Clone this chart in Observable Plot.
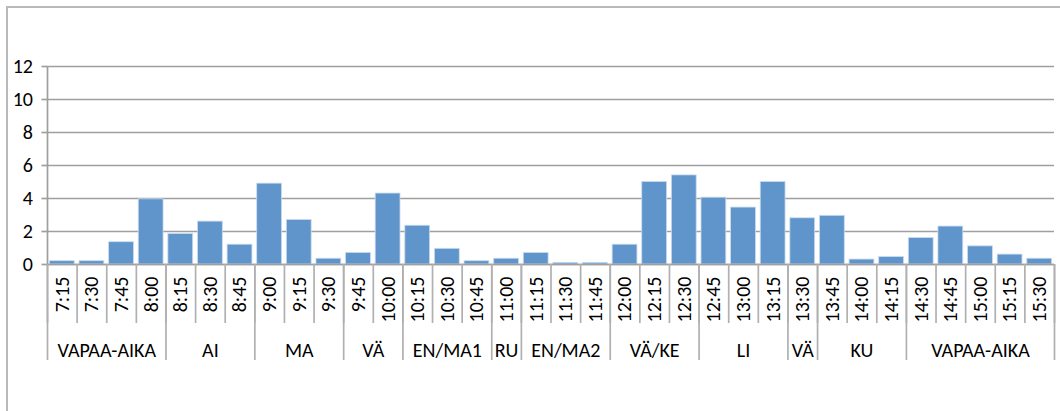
<!DOCTYPE html>
<html>
<head>
<meta charset="utf-8">
<script src="https://cdn.jsdelivr.net/npm/d3@7"></script>
<script src="https://cdn.jsdelivr.net/npm/@observablehq/plot@0.6"></script>
<style>
  html, body { margin: 0; padding: 0; background: #fff; }
  #wrap { position: relative; width: 1060px; height: 411px; overflow: hidden; }
  #frame { position: absolute; left: 6px; top: 6px; width: 1200px; height: 600px;
           border-top: 2px solid #b9b9b9; border-left: 2px solid #b9b9b9; box-sizing: border-box; }
  #chart { position: absolute; left: 0; top: 0; }
</style>
</head>
<body>
<div id="wrap"><div id="frame"></div><div id="chart"></div></div>
<script>
// ---- data ----
const times = ["7:15","7:30","7:45","8:00","8:15","8:30","8:45","9:00","9:15","9:30",
  "9:45","10:00","10:15","10:30","10:45","11:00","11:15","11:30","11:45","12:00",
  "12:15","12:30","12:45","13:00","13:15","13:30","13:45","14:00","14:15","14:30",
  "14:45","15:00","15:15","15:30"];
const values = [0.2,0.2,1.35,3.95,1.85,2.6,1.2,4.9,2.7,0.35,
  0.7,4.3,2.35,0.95,0.2,0.35,0.7,0.1,0.1,1.2,
  5.0,5.4,4.05,3.45,5.0,2.8,2.95,0.3,0.45,1.6,
  2.3,1.1,0.6,0.35];
const groupNames = ["VAPAA-AIKA","AI","MA","VÄ","EN/MA1","RU","EN/MA2","VÄ/KE","LI","VÄ","KU","VAPAA-AIKA"];
const groupSizes = [4,3,3,2,3,1,3,3,3,1,3,5];
const yTicks = [0,2,4,6,8,10,12];

// ---- derived tables ----
const bars = times.map((t, i) => ({t, i, v: values[i]}));
const groups = [];
let start = 0;
groupNames.forEach((g, k) => { groups.push({g, start, end: start + groupSizes[k]}); start += groupSizes[k]; });
const groupBounds = [0, ...groups.map(d => d.end)];
const bandBounds = d3.range(times.length + 1);

const font = "Carlito, Calibri, Lato, sans-serif";
const fs = 20;
const grid = "#9f9f9f";
const sep = "#b0b0b0";

const chart = Plot.plot({
  width: 1060,
  height: 411,
  marginLeft: 47,
  marginRight: 6,
  marginTop: 66,
  marginBottom: 147,
  style: {fontFamily: font, fontSize: fs + "px", color: "#000", background: "transparent"},
  x: {type: "linear", domain: [0, times.length], axis: null},
  y: {domain: [0, 12], axis: null},
  marks: [
    Plot.gridY(yTicks, {stroke: grid, strokeOpacity: 1, strokeWidth: 1.7}),
    Plot.rectY(bars, {x1: "i", x2: d => d.i + 1, y: "v", insetLeft: 2.4, insetRight: 2.4,
      fill: "#5f95ca", stroke: "#c9dbef", strokeWidth: 0.8}),
    Plot.ruleX([0], {y1: 0, y2: 12, stroke: grid, strokeWidth: 1.7}),
    Plot.ruleY([0], {stroke: grid, strokeWidth: 1.7}),
    Plot.axisY({ticks: yTicks, tickSize: 5.5, tickPadding: 9, stroke: grid, strokeWidth: 1.7,
      fontSize: fs, fill: "#000", label: null}),
    Plot.axisX({ticks: bandBounds, tickSize: 59, tickFormat: () => "", stroke: sep, strokeWidth: 1.7, label: null}),
    Plot.axisX({ticks: groupBounds, tickSize: 96, tickFormat: () => "", stroke: sep, strokeWidth: 1.7, label: null}),
    Plot.text(bars, {x: d => d.i + 0.5, y: () => 0, text: "t", rotate: -90, textAnchor: "end",
      dy: 12, fill: "#000", fontSize: fs}),
    Plot.text(groups, {x: d => (d.start + d.end) / 2, y: () => 0, text: "g", dy: 86,
      fill: "#000", fontSize: fs})
  ]
});
document.getElementById("chart").appendChild(chart);
</script>
</body>
</html>
